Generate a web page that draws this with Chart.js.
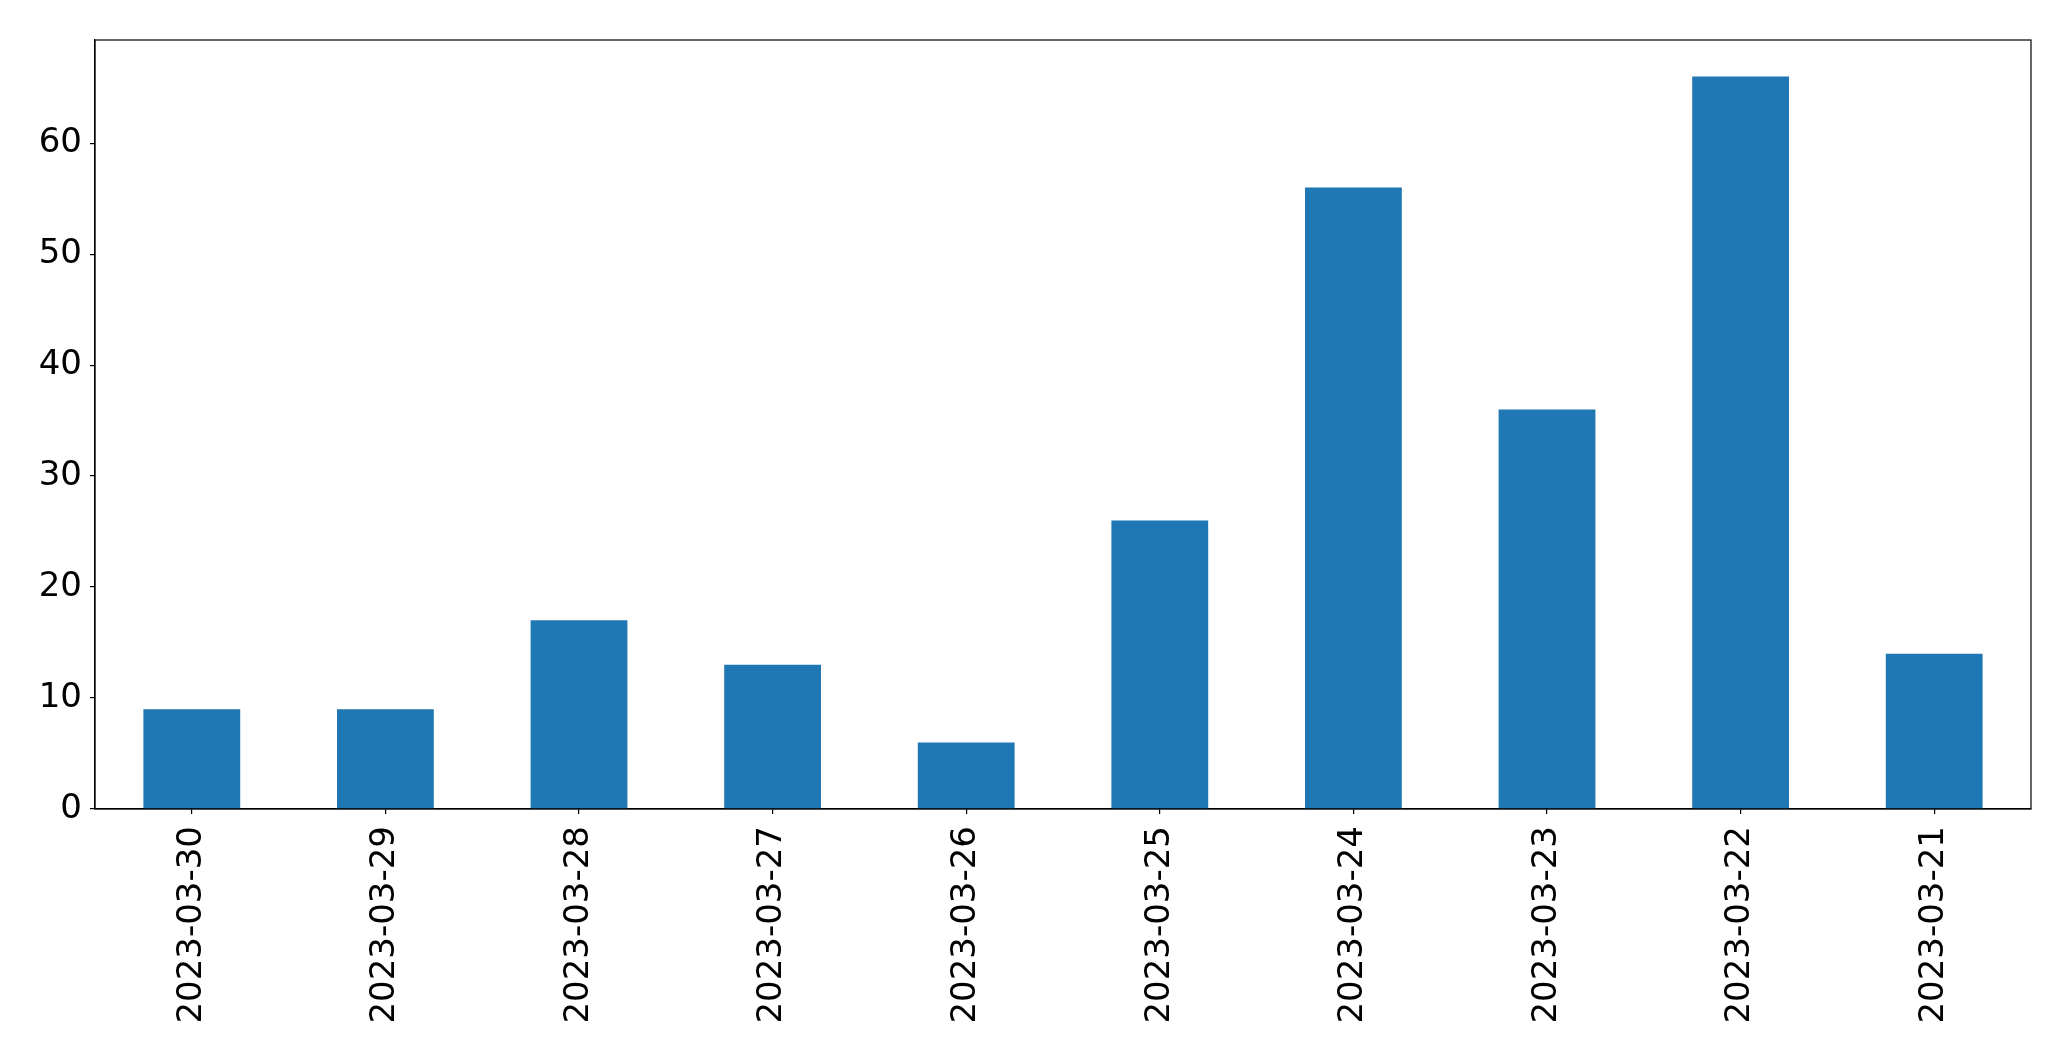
<!DOCTYPE html>
<html>
<head>
<meta charset="utf-8">
<script src="https://cdn.jsdelivr.net/npm/chart.js@4/dist/chart.umd.min.js"></script>
<style>
  body { margin: 0; background: #fff; }
  canvas { display: block; }
</style>
</head>
<body>
<canvas id="daily_counts" width="2071" height="1061"></canvas>
<script>
var dates = ['2023-03-30', '2023-03-29', '2023-03-28', '2023-03-27', '2023-03-26',
             '2023-03-25', '2023-03-24', '2023-03-23', '2023-03-22', '2023-03-21']
var counts = [9, 9, 17, 13, 6, 26, 56, 36, 66, 14]
var yTicks = [0, 10, 20, 30, 40, 50, 60]
var yMax = 69.3

// matplotlib style frame round the plot area
var frame = {
    id: 'frame',
    afterDraw: function(chart) {
        var a = chart.chartArea
        var ctx = chart.ctx
        ctx.save()
        ctx.strokeStyle = '#000'
        ctx.lineWidth = 1.2
        ctx.strokeRect(a.left, a.top, a.right - a.left, a.bottom - a.top)
        ctx.restore()
    }
}

document.addEventListener('DOMContentLoaded', function() {
    var ctx = document.getElementById('daily_counts').getContext('2d')
    var chart = new Chart(ctx, {
        type: 'bar',
        data: {
            labels: dates,
            datasets: [{
                data: counts,
                backgroundColor: '#1f77b4',
                borderWidth: 0,
                barPercentage: 0.5,
                categoryPercentage: 1.0
            }]
        },
        options: {
            responsive: false,
            animation: false,
            layout: { padding: { top: 40, right: 40, left: 0, bottom: 0 } },
            plugins: { legend: { display: false }, tooltip: { enabled: false } },
            scales: {
                x: {
                    offset: true,
                    afterFit: function(scale) { scale.height = 1061 - 809 },
                    grid: { offset: false, drawOnChartArea: false, color: '#000', tickLength: 5, lineWidth: 1.2 },
                    border: { color: '#000', width: 1.2 },
                    ticks: {
                        color: '#000',
                        font: { family: 'DejaVu Sans', size: 34 },
                        minRotation: 90,
                        maxRotation: 90,
                        padding: 12,
                        autoSkip: false
                    }
                },
                y: {
                    min: 0,
                    max: yMax,
                    afterFit: function(scale) { scale.width = 95 },
                    afterBuildTicks: function(scale) {
                        scale.ticks = yTicks.map(function(v) { return { value: v } })
                    },
                    grid: { drawOnChartArea: false, color: '#000', tickLength: 5, lineWidth: 1.2 },
                    border: { color: '#000', width: 1.2 },
                    ticks: {
                        color: '#000',
                        font: { family: 'DejaVu Sans', size: 34 },
                        padding: 8
                    }
                }
            }
        },
        plugins: [frame]
    })
})
</script>
</body>
</html>
